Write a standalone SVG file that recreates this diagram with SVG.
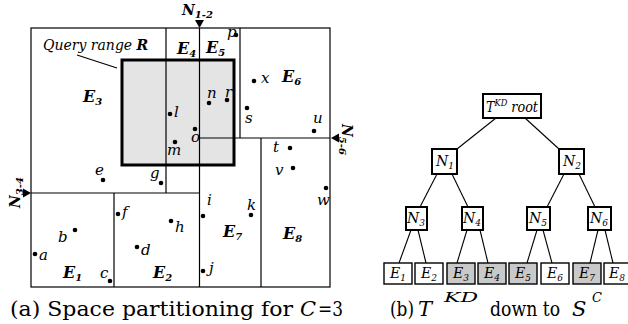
<svg xmlns="http://www.w3.org/2000/svg" width="628" height="324" viewBox="0 0 628 324">
<defs>
<style>
text{font-family:"DejaVu Serif",serif}
.ln{stroke:#000;stroke-width:1.2;fill:none}
.pt{fill:#000}
.lb{font-style:italic;font-size:15px;fill:#000}
.q{font-style:italic;font-size:14px;fill:#000}
.E{font-style:italic;font-weight:bold;font-size:16px;fill:#000}
.N{font-style:italic;font-weight:bold;font-size:14px;fill:#000}
.sub{font-size:10px}
.cap{font-size:21px;fill:#000}
.sup{font-size:13px;font-style:italic;fill:#000}
.it{font-style:italic}
.nb{fill:#fff;stroke:#000;stroke-width:2}
.lf{fill:#fff;stroke:#000;stroke-width:1.4}
.sh{fill:#c9c9c9}
.tl{font-style:italic;font-size:14px;fill:#000}
.ts{font-size:9px}
.edge{stroke:#000;stroke-width:1.1;fill:none}
</style>
</defs>
<rect width="628" height="324" fill="#fff"/>
<g id="partition">
<rect x="122" y="60" width="112" height="105" fill="#e4e4e4" stroke="#000" stroke-width="3"/>
<rect x="31" y="28" width="299" height="259" class="ln"/>
<line x1="166" y1="28" x2="166" y2="193" class="ln"/>
<line x1="199.5" y1="28" x2="199.5" y2="287" class="ln"/>
<line x1="240" y1="28" x2="240" y2="138" class="ln"/>
<line x1="199.5" y1="138" x2="330" y2="138" class="ln"/>
<line x1="261" y1="138" x2="261" y2="287" class="ln"/>
<line x1="31" y1="193" x2="199.5" y2="193" class="ln"/>
<line x1="114" y1="193" x2="114" y2="287" class="ln"/>
<line x1="77" y1="55" x2="117" y2="68" class="ln"/>
</g>
<g id="splits">
<polygon points="195,20 204,20 199.5,28" fill="#000"/>
<text x="182" y="15" class="N">N<tspan class="sub" dy="3">1-2</tspan></text>
<polygon points="339,133.5 339,142.5 331,138" fill="#000"/>
<text transform="translate(342,124) rotate(90)" class="N">N<tspan class="sub" dy="3">5-6</tspan></text>
<polygon points="23,188.5 23,197.5 31,193" fill="#000"/>
<text transform="translate(20,208) rotate(-90)" class="N">N<tspan class="sub" dy="3">3-4</tspan></text>
</g>
<g id="labels">
<text x="43" y="50" class="q">Query range <tspan font-weight="bold">R</tspan></text>
<text x="83" y="102" class="E">E<tspan class="sub" dy="3">3</tspan></text>
<text x="177" y="54" class="E">E<tspan class="sub" dy="3">4</tspan></text>
<text x="206" y="53" class="E">E<tspan class="sub" dy="3">5</tspan></text>
<text x="282" y="82" class="E">E<tspan class="sub" dy="3">6</tspan></text>
<text x="223" y="237" class="E">E<tspan class="sub" dy="3">7</tspan></text>
<text x="283" y="239" class="E">E<tspan class="sub" dy="3">8</tspan></text>
<text x="63" y="278" class="E">E<tspan class="sub" dy="3">1</tspan></text>
<text x="153" y="278" class="E">E<tspan class="sub" dy="3">2</tspan></text>
</g>
<g id="points">
<circle cx="170" cy="114" r="2.3" class="pt"/><text x="174" y="117" class="lb">l</text>
<circle cx="195" cy="129" r="2.3" class="pt"/><text x="191" y="142" class="lb">o</text>
<circle cx="175" cy="142" r="2.3" class="pt"/><text x="167" y="155" class="lb">m</text>
<circle cx="209" cy="103" r="2.3" class="pt"/><text x="207" y="98" class="lb">n</text>
<circle cx="227" cy="100" r="2.3" class="pt"/><text x="225" y="97" class="lb">r</text>
<circle cx="236" cy="35" r="2.3" class="pt"/><text x="227" y="37" class="lb">p</text>
<circle cx="254" cy="81" r="2.3" class="pt"/><text x="261" y="83" class="lb">x</text>
<circle cx="247" cy="108" r="2.3" class="pt"/><text x="245" y="123" class="lb">s</text>
<circle cx="314" cy="131" r="2.3" class="pt"/><text x="313" y="123" class="lb">u</text>
<circle cx="290" cy="148" r="2.3" class="pt"/><text x="273" y="152" class="lb">t</text>
<circle cx="293" cy="168" r="2.3" class="pt"/><text x="275" y="175" class="lb">v</text>
<circle cx="326" cy="188" r="2.3" class="pt"/><text x="317" y="205" class="lb">w</text>
<circle cx="203" cy="216" r="2.3" class="pt"/><text x="207" y="205" class="lb">i</text>
<circle cx="251" cy="215" r="2.3" class="pt"/><text x="247" y="210" class="lb">k</text>
<circle cx="203" cy="271" r="2.3" class="pt"/><text x="209" y="273" class="lb">j</text>
<circle cx="103" cy="180" r="2.3" class="pt"/><text x="95" y="175" class="lb">e</text>
<circle cx="161" cy="183" r="2.3" class="pt"/><text x="150" y="178" class="lb">g</text>
<circle cx="118" cy="214" r="2.3" class="pt"/><text x="122" y="217" class="lb">f</text>
<circle cx="171" cy="221" r="2.3" class="pt"/><text x="175" y="232" class="lb">h</text>
<circle cx="75" cy="230" r="2.3" class="pt"/><text x="58" y="242" class="lb">b</text>
<circle cx="35" cy="254" r="2.3" class="pt"/><text x="39" y="260" class="lb">a</text>
<circle cx="137" cy="247" r="2.3" class="pt"/><text x="141" y="255" class="lb">d</text>
<circle cx="110" cy="281" r="2.3" class="pt"/><text x="100" y="278" class="lb">c</text>
</g>
<text x="10" y="316" class="cap" textLength="283" lengthAdjust="spacingAndGlyphs">(a) Space partitioning for</text>
<text x="300" y="316" class="cap it">C</text>
<text x="318" y="316" class="cap" textLength="25" lengthAdjust="spacingAndGlyphs">=3</text>
<g id="connectors">
<line x1="496" y1="118" x2="457" y2="149" class="edge"/>
<line x1="525" y1="118" x2="559" y2="149" class="edge"/>
<line x1="437" y1="174" x2="420" y2="207" class="edge"/>
<line x1="452" y1="174" x2="468" y2="207" class="edge"/>
<line x1="564" y1="174" x2="547" y2="207" class="edge"/>
<line x1="579" y1="174" x2="595" y2="207" class="edge"/>
<line x1="411" y1="230" x2="399" y2="263" class="edge"/>
<line x1="418" y1="230" x2="426" y2="263" class="edge"/>
<line x1="467" y1="230" x2="457" y2="263" class="edge"/>
<line x1="480" y1="230" x2="488" y2="263" class="edge"/>
<line x1="537" y1="230" x2="527" y2="263" class="edge"/>
<line x1="543" y1="230" x2="552" y2="263" class="edge"/>
<line x1="598" y1="230" x2="590" y2="263" class="edge"/>
<line x1="605" y1="230" x2="613" y2="263" class="edge"/>
</g>
<g id="root"><rect x="483" y="94" width="58" height="24" class="nb"/><text x="486" y="112" class="tl" textLength="52" lengthAdjust="spacingAndGlyphs">T<tspan class="ts" dy="-6">KD</tspan><tspan dy="6"> root</tspan></text></g>
<g id="N1"><rect x="432" y="149" width="25" height="25" class="nb"/><text x="436" y="166" class="tl">N<tspan class="ts" dy="3">1</tspan></text></g>
<g id="N2"><rect x="559" y="149" width="25" height="25" class="nb"/><text x="563" y="166" class="tl">N<tspan class="ts" dy="3">2</tspan></text></g>
<g id="N3"><rect x="406" y="207" width="21" height="23" class="nb"/><text x="407" y="223" class="tl">N<tspan class="ts" dy="3">3</tspan></text></g>
<g id="N4"><rect x="462" y="207" width="21" height="23" class="nb"/><text x="463" y="223" class="tl">N<tspan class="ts" dy="3">4</tspan></text></g>
<g id="N5"><rect x="527" y="207" width="23" height="23" class="nb"/><text x="529" y="223" class="tl">N<tspan class="ts" dy="3">5</tspan></text></g>
<g id="N6"><rect x="588" y="207" width="23" height="23" class="nb"/><text x="590" y="223" class="tl">N<tspan class="ts" dy="3">6</tspan></text></g>
<g id="E1"><rect x="384" y="263" width="28" height="21" class="lf"/><text x="390" y="278" class="tl">E<tspan class="ts" dy="3">1</tspan></text></g>
<g id="E2"><rect x="415" y="263" width="28" height="21" class="lf"/><text x="421" y="278" class="tl">E<tspan class="ts" dy="3">2</tspan></text></g>
<g id="E3"><rect x="447" y="263" width="28" height="21" class="lf sh"/><text x="453" y="278" class="tl">E<tspan class="ts" dy="3">3</tspan></text></g>
<g id="E4"><rect x="478" y="263" width="28" height="21" class="lf sh"/><text x="484" y="278" class="tl">E<tspan class="ts" dy="3">4</tspan></text></g>
<g id="E5"><rect x="509" y="263" width="28" height="21" class="lf sh"/><text x="515" y="278" class="tl">E<tspan class="ts" dy="3">5</tspan></text></g>
<g id="E6"><rect x="541" y="263" width="28" height="21" class="lf"/><text x="547" y="278" class="tl">E<tspan class="ts" dy="3">6</tspan></text></g>
<g id="E7"><rect x="573" y="263" width="28" height="21" class="lf sh"/><text x="579" y="278" class="tl">E<tspan class="ts" dy="3">7</tspan></text></g>
<g id="E8"><rect x="604" y="263" width="28" height="21" class="lf"/><text x="609" y="278" class="tl">E<tspan class="ts" dy="3">8</tspan></text></g>
<text x="390" y="316" class="cap" textLength="24" lengthAdjust="spacingAndGlyphs">(b)</text>
<text x="418" y="316" class="cap it">T</text>
<text x="444" y="302" class="sup" textLength="34" lengthAdjust="spacingAndGlyphs">KD</text>
<text x="490" y="316" class="cap" textLength="70" lengthAdjust="spacingAndGlyphs">down to</text>
<text x="572" y="316" class="cap it">S</text>
<text x="592" y="302" class="sup">C</text>
</svg>
